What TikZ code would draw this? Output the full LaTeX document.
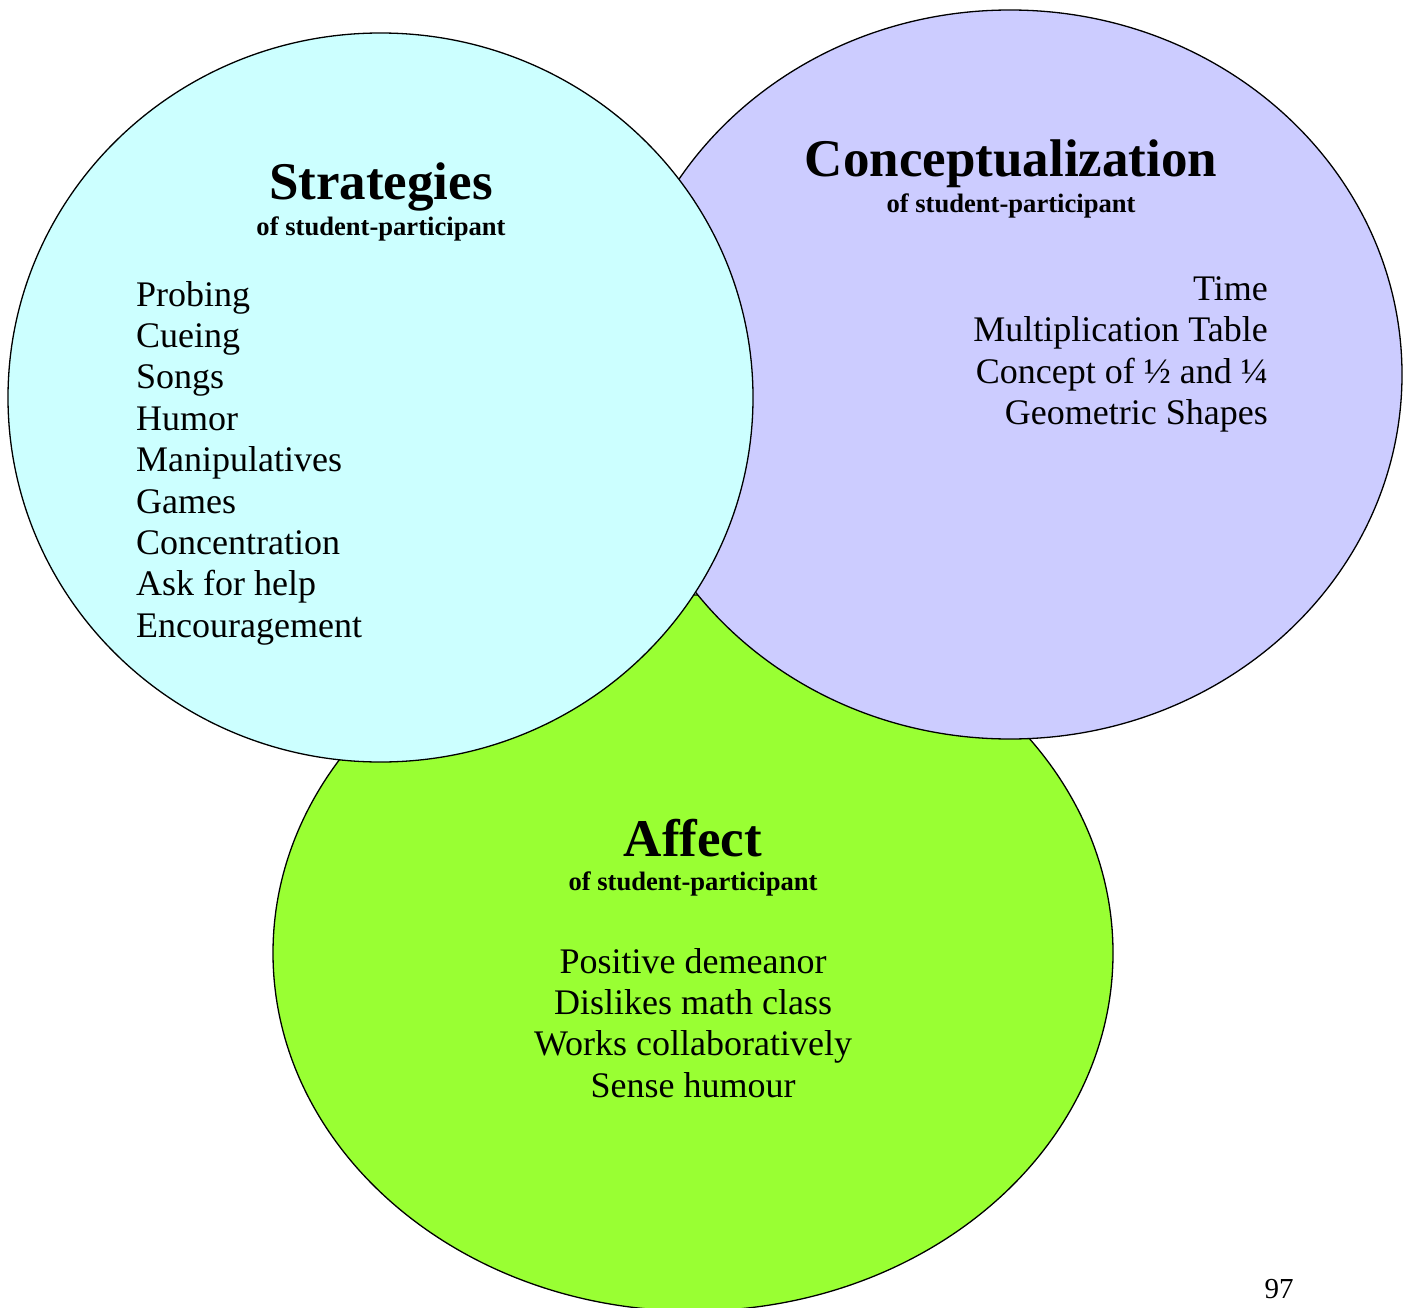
\documentclass[tikz,border=0pt]{standalone}
\usepackage{fontspec}
\setmainfont{Liberation Serif}
\definecolor{cyanfill}{HTML}{CCFFFF}
\definecolor{lavfill}{HTML}{CCCCFF}
\definecolor{greenfill}{HTML}{99FF33}
\begin{document}
\begin{tikzpicture}[x=1pt,y=-1pt,
  blob/.style={draw=black,line width=1.3pt},
  titletext/.style={anchor=base,inner sep=0pt,font=\fontsize{53}{60}\selectfont\bfseries},
  subtext/.style={anchor=base,inner sep=0pt,font=\fontsize{26.6}{30}\selectfont\bfseries},
  itemtext/.style={inner sep=0pt,font=\fontsize{36}{40}\selectfont}]
\useasboundingbox[fill=white] (0,0) rectangle (1410,1308);
% circles
\fill[greenfill,blob] (693,953) ellipse [x radius=420,y radius=358];
\fill[lavfill,blob] (1010,374.5) ellipse [x radius=392,y radius=364.5];
\fill[cyanfill,blob] (380.5,397.5) ellipse [x radius=372.5,y radius=364.5];
% Strategies
\node[titletext] (st) at (381,200) {Strategies};
\node[subtext] (sts) at (381,235) {of student-participant};
\foreach \t [count=\i] in {Probing,Cueing,Songs,Humor,Manipulatives,Games,Concentration,Ask for help,Encouragement}{
  \node[itemtext,anchor=base west] (s\i) at (136,{306+41.4*(\i-1)}) {\t};
}
% Conceptualization
\node[titletext] (ct) at (1011,177) {Conceptualization};
\node[subtext] (cts) at (1011,212) {of student-participant};
\foreach \t [count=\i] in {Time,Multiplication Table,Concept of ½ and ¼,Geometric Shapes}{
  \node[itemtext,anchor=base east] (c\i) at (1268,{300+41.6*(\i-1)}) {\t};
}
% Affect
\node[titletext] (at) at (693,856) {Affect};
\node[subtext] (ats) at (693,890) {of student-participant};
\foreach \t [count=\i] in {Positive demeanor,Dislikes math class,Works collaboratively,Sense humour}{
  \node[itemtext,anchor=base] (a\i) at (693,{973+41.4*(\i-1)}) {\t};
}
% page number
\node[anchor=base,inner sep=0pt,font=\fontsize{29}{32}\selectfont] (pg) at (1279,1298) {97};
\end{tikzpicture}
\end{document}
